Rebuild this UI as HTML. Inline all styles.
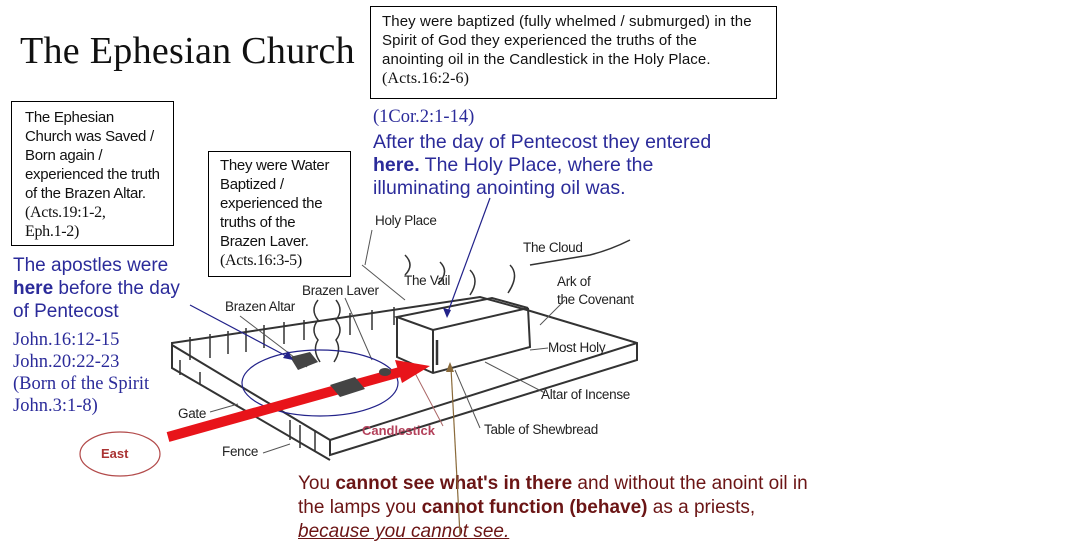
<!DOCTYPE html>
<html><head><meta charset="utf-8"><style>
body{margin:0;width:1068px;height:550px;background:#fff;position:relative;overflow:hidden;font-family:"Liberation Sans",sans-serif}
.a{position:absolute;white-space:nowrap}
.box{position:absolute;border:1px solid #000;background:#fff;font-size:15px;line-height:19px;color:#111;box-sizing:border-box;white-space:nowrap;letter-spacing:-0.3px}
.ser{font-family:"Liberation Serif",serif}
.blue{color:#2b2b9a}
.lbl{position:absolute;font-size:13.5px;color:#222;white-space:nowrap;letter-spacing:-0.3px}
</style></head><body>
<div class="a ser" style="left:20px;top:29px;font-size:38px;color:#111;letter-spacing:0.3px">The Ephesian Church</div>
<div class="box" style="left:370px;top:6px;width:407px;height:93px;padding:5px 0 0 11px;letter-spacing:0.1px">They were baptized (fully whelmed / submurged) in the<br>Spirit of God they experienced the truths of the<br>anointing oil in the Candlestick in the Holy Place.<br><span class="ser" style="font-size:16px">(Acts.16:2-6)</span></div>
<div class="box" style="left:11px;top:101px;width:163px;height:145px;padding:6px 0 0 13px;line-height:19px">The Ephesian<br>Church was Saved /<br>Born again /<br>experienced the truth<br>of the Brazen Altar.<br><span class="ser" style="font-size:16px">(Acts.19:1-2,<br>Eph.1-2)</span></div>
<div class="box" style="left:208px;top:151px;width:143px;height:126px;padding:4px 0 0 11px">They were Water<br>Baptized /<br>experienced the<br>truths of the<br>Brazen Laver.<br><span class="ser" style="font-size:16px">(Acts.16:3-5)</span></div>
<div class="a ser blue" style="left:373px;top:107px;font-size:18.5px">(1Cor.2:1-14)</div>
<div class="a blue" style="left:373px;top:131px;font-size:19.5px;line-height:23px">After the day of Pentecost they entered<br><b>here.</b> The Holy Place, where the<br>illuminating anointing oil was.</div>
<div class="a blue" style="left:13px;top:254px;font-size:19px;line-height:23px">The apostles were<br><b>here</b> before the day<br>of Pentecost</div>
<div class="a ser blue" style="left:13px;top:329px;font-size:18.5px;line-height:22px">John.16:12-15<br>John.20:22-23<br>(Born of the Spirit<br>John.3:1-8)</div>
<div class="a" style="left:298px;top:472px;font-size:19px;line-height:24px;color:#6b1515">You <b>cannot see what's in there</b> and without the anoint oil in<br>the lamps you <b>cannot function (behave)</b> as a priests,<br><i><u>because you cannot see.</u></i></div>
<svg class="a" style="left:0;top:0" width="1068" height="550">
<g fill="none" stroke="#333" stroke-width="2">
<path d="M172,343 L480,297 L527,310 L637,343 L637,360 L330,455 L330,440 L172,345 Z"/>
<path d="M172,345 L172,368 L330,460"/>
<path d="M330,440 L637,343"/>
<path d="M190,337 L190,360 M210,334 L210,358 M228,331 L228,354 M246,328 L246,352 M264,325 L264,348 M284,322 L284,344 M304,320 L304,340 M350,313 L350,335 M372,310 L372,330 M394,307 L394,325" stroke-width="1.5"/>
<path d="M180,360 L180,375 M200,372 L200,385 M290,420 L290,440 M300,425 L300,448 M315,430 L315,452" stroke-width="1.5"/>
<path d="M397,317 L433,330 L528,308 L492,298 Z"/>
<path d="M397,317 L397,357 L433,373 L530,347 L528,308 M433,330 L433,373"/>
<path d="M437,340 L437,365" stroke-width="2.5"/>
<path d="M318,300 q-8,10 0,20 q-8,10 0,20 q-6,10 2,22 M336,300 q8,10 0,20 q8,10 0,20 q6,10 -2,22" stroke-width="1.5"/>
<path d="M405,255 q10,10 0,20 M440,262 q10,10 -2,22 M470,270 q10,10 0,25 M510,265 q10,10 -2,28 M530,265 q30,-5 60,-10 q20,-5 40,-15" stroke-width="1.5"/>
</g>
<g stroke="#555" stroke-width="1">
<line x1="362" y1="265" x2="405" y2="300"/><line x1="372" y1="230" x2="365" y2="265"/>
<line x1="240" y1="316" x2="307" y2="367"/><line x1="345" y1="298" x2="372" y2="360"/>
<line x1="565" y1="300" x2="540" y2="325"/><line x1="548" y1="348" x2="530" y2="350"/>
<line x1="545" y1="393" x2="485" y2="362"/><line x1="480" y1="428" x2="455" y2="370"/>
<line x1="210" y1="412" x2="238" y2="404"/><line x1="263" y1="453" x2="290" y2="444"/>
<line x1="443" y1="426" x2="415" y2="373" stroke="#a66"/>
</g>
<ellipse cx="320" cy="383" rx="78" ry="33" fill="none" stroke="#22228a" stroke-width="1.2"/>
<path d="M168,437 L400,372" stroke="#e8141a" stroke-width="10"/>
<path d="M395,360 L430,366 L402,383 Z" fill="#e8141a"/>
<ellipse cx="385" cy="372" rx="6" ry="4" fill="#444"/>
<path d="M290,357 l20,-5 l8,10 l-20,8 z M330,385 l25,-8 l10,12 l-25,8z" fill="#444"/>
<line x1="190" y1="305" x2="290" y2="358" stroke="#22228a" stroke-width="1.2"/>
<path d="M293,360 l-10,-2 l5,-7z" fill="#22228a"/>
<line x1="490" y1="198" x2="448" y2="312" stroke="#22228a" stroke-width="1.2"/>
<path d="M447,318 l-4,-10 l8,2z" fill="#22228a"/>
<line x1="460" y1="535" x2="451" y2="368" stroke="#8a6a3a" stroke-width="1.2"/>
<path d="M450,362 l-4,10 l8,0z" fill="#8a6a3a"/>
<ellipse cx="120" cy="454" rx="40" ry="22" fill="none" stroke="#b24a4a" stroke-width="1.2"/>
</svg>
<div class="a" style="left:101px;top:446px;font-size:13px;font-weight:bold;color:#a33">East</div>
<div class="lbl" style="left:375px;top:213px">Holy Place</div>
<div class="lbl" style="left:523px;top:240px">The Cloud</div>
<div class="lbl" style="left:404px;top:273px">The Vail</div>
<div class="lbl" style="left:557px;top:273px;line-height:18px">Ark of<br>the Covenant</div>
<div class="lbl" style="left:302px;top:283px">Brazen Laver</div>
<div class="lbl" style="left:225px;top:299px">Brazen Altar</div>
<div class="lbl" style="left:548px;top:340px">Most Holy</div>
<div class="lbl" style="left:541px;top:387px">Altar of Incense</div>
<div class="lbl" style="left:484px;top:422px">Table of Shewbread</div>
<div class="lbl" style="left:178px;top:406px">Gate</div>
<div class="lbl" style="left:222px;top:444px">Fence</div>
<div class="a" style="left:362px;top:423px;font-size:13px;font-weight:bold;color:#b3405a">Candlestick</div>
</body></html>
